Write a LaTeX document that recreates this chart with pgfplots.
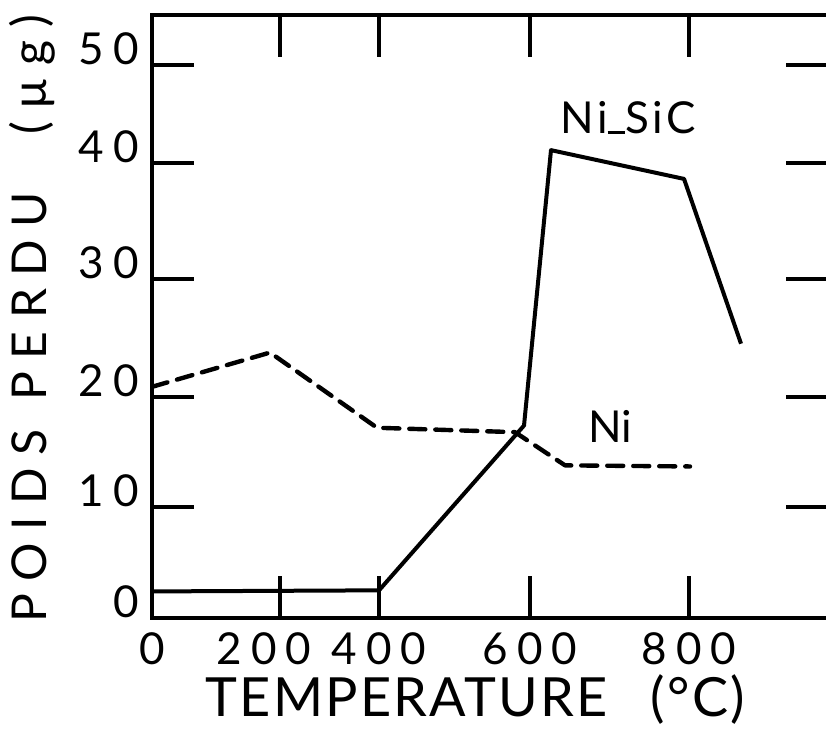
\documentclass[border=0pt]{standalone}
\usepackage{fontspec}
\setmainfont{Lato}
\usepackage{pgfplots}
\pgfplotsset{compat=1.18}

\begin{document}
\begin{tikzpicture}
\begin{axis}[
  scale only axis,
  width=338pt, height=301.5pt,
  xmin=0, xmax=1007.1, ymin=0, ymax=54.52,
  axis line style={line width=2pt},
  every tick/.style={black, line width=2pt},
  major tick length=21pt,
  tick align=inside,
  tick pos=both,
  % hand-drawn ticks are not evenly spaced
  xtick={0,190.7,338.2,563.1,800},
  xticklabels={0,{\kern-16pt 200},400,600,800},
  ytick={0,10,20,30.65,41.14,50},
  yticklabels={0,10,20,30,40,50},
  ticklabel style={font=\fontsize{22}{22}\selectfont\addfontfeature{LetterSpace=20},
    inner sep=0pt},
  xticklabel style={anchor=north, yshift=-7pt},
  yticklabel style={anchor=south east, xshift=-6.5pt},
  xlabel={TEMPERATURE\hspace{0.8em}(°C)},
  xlabel style={font=\fontsize{27}{27}\selectfont\addfontfeature{LetterSpace=4},
    at={(axis description cs:0.478,-0.164)}, anchor=base},
  ylabel={POIDS\hspace{0.6em}PERDU\hspace{1.2em}(µg)},
  ylabel style={font=\fontsize{24}{24}\selectfont\addfontfeature{LetterSpace=26},
    at={(axis description cs:-0.1775,0.496)}, anchor=center},
]
% Ni-SiC
\addplot[black, line width=2pt, line join=round]
  coordinates {(0,2.4)(338.2,2.5)(554.2,17.4)(594.4,42.3)(792.6,39.7)(877.5,24.8)};
% Ni
\addplot[black, line width=2.2pt, dash pattern=on 8pt off 5pt, line cap=round, line join=round]
  coordinates {(0,20.9)(175.8,24.0)(335.2,17.2)(540.8,16.8)(615.3,13.8)(801.5,13.7)};

\node[font=\fontsize{22}{22}\selectfont\addfontfeature{LetterSpace=8}] at (axis cs:709,45.2)
  {Ni\rule{0.4em}{0.07em}SiC};
\node[font=\fontsize{22}{22}\selectfont] at (axis cs:682.3,17.36) {Ni};

\coordinate (bbA) at (axis description cs:-0.2249,-0.18408);
\coordinate (bbB) at (axis description cs:0.99704,1.02488);
\end{axis}
\pgfresetboundingbox
\useasboundingbox (bbA) rectangle (bbB);
\end{tikzpicture}
\end{document}
